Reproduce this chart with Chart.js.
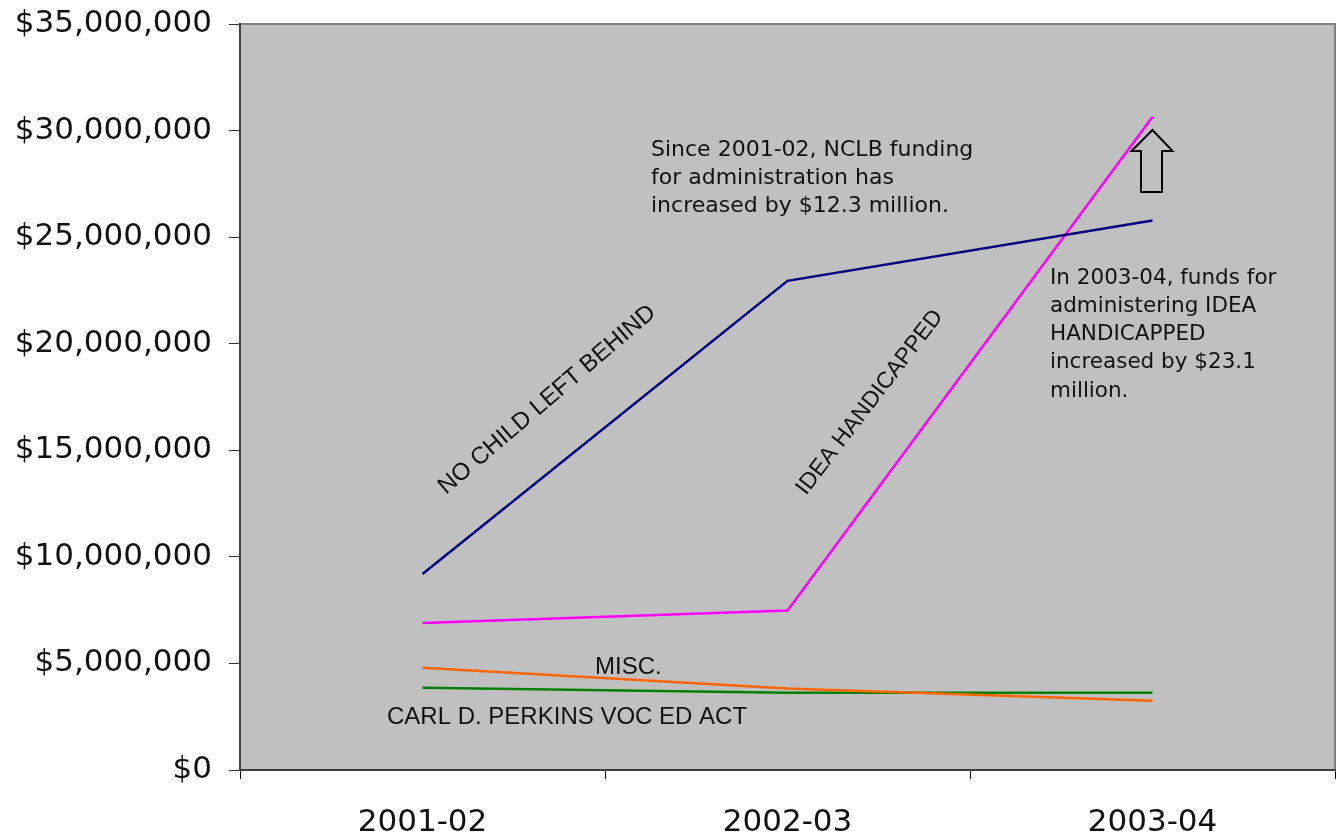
<!DOCTYPE html>
<html>
<head>
<meta charset="utf-8">
<script src="https://cdn.jsdelivr.net/npm/chart.js@4.4.0/dist/chart.umd.min.js"></script>
<style>
  html, body { margin: 0; padding: 0; background: #fff; }
  #wrap { width: 1339px; height: 834px; }
</style>
</head>
<body>
<div id="wrap"><canvas id="mycanvas" width="1339" height="834"></canvas></div>
<script>
// school years on the x axis
var years = ['2001-02', '2002-03', '2003-04'];

// admin funding, dollars
var nclb    = [9200000, 22950000, 25780000];
var idea    = [6900000, 7480000, 30650000];
var misc    = [4800000, 3820000, 3250000];
var perkins = [3860000, 3620000, 3620000];

var yTicks = [0, 5000000, 10000000, 15000000, 20000000, 25000000, 30000000, 35000000];

var gothic = '"DejaVu Sans", sans-serif';
var arial = '"Liberation Sans", Arial, sans-serif';

function money(v){
    return '$' + Number(v).toLocaleString('en-US');
}

// gray plot area with the thin borders on top and right
var plotBg = {
    id: 'plotBg',
    beforeDraw: function(chart){
        var c = chart.ctx, a = chart.chartArea;
        c.save();
        c.fillStyle = '#c0c0c0';
        c.fillRect(a.left, a.top, a.right - a.left, a.bottom - a.top);
        c.strokeStyle = '#808080';
        c.lineWidth = 2;
        c.beginPath();
        c.moveTo(a.left, a.top);
        c.lineTo(a.right, a.top);
        c.lineTo(a.right, a.bottom);
        c.stroke();
        c.restore();
    }
};

// text boxes, rotated series names and the up arrow
var notes = {
    id: 'notes',
    afterDatasetsDraw: function(chart){
        var c = chart.ctx;
        var x = chart.scales.x;
        c.save();
        c.fillStyle = '#111';
        c.textBaseline = 'middle';
        c.textAlign = 'left';

        c.font = '22px ' + gothic;
        var l1 = ['Since 2001-02, NCLB funding', 'for administration has', 'increased by $12.3 million.'];
        l1.forEach(function(t, i){ c.fillText(t, 651, 150 + i * 28.3); });

        c.font = '21.5px ' + gothic;
        var l2 = ['In 2003-04, funds for', 'administering IDEA', 'HANDICAPPED', 'increased by $23.1', 'million.'];
        l2.forEach(function(t, i){ c.fillText(t, 1050, 278 + i * 28.3); });

        c.font = '24px ' + arial;
        c.fillText('MISC.', 595, 667);
        c.fillText('CARL D. PERKINS VOC ED ACT', 387, 717);

        c.save();
        c.translate(446, 495);
        c.rotate(-40.5 * Math.PI / 180);
        c.textBaseline = 'alphabetic';
        c.font = '24px ' + arial;
        c.fillText('NO CHILD LEFT BEHIND', 0, 0);
        c.restore();

        c.save();
        c.translate(806, 496);
        c.rotate(-52.5 * Math.PI / 180);
        c.textBaseline = 'alphabetic';
        c.font = '23px ' + arial;
        c.fillText('IDEA HANDICAPPED', 0, 0);
        c.restore();

        // block arrow above the 2003-04 point
        var ax = x.getPixelForValue(2);
        c.strokeStyle = '#000';
        c.lineWidth = 2;
        c.beginPath();
        c.moveTo(ax, 130);
        c.lineTo(ax + 20, 151);
        c.lineTo(ax + 9.5, 151);
        c.lineTo(ax + 9.5, 192);
        c.lineTo(ax - 11.5, 192);
        c.lineTo(ax - 11.5, 151);
        c.lineTo(ax - 21, 151);
        c.closePath();
        c.stroke();
        c.restore();
    }
};

var lineSet = function(label, data, color){
    return {
        label: label,
        data: data,
        borderColor: color,
        backgroundColor: color,
        borderWidth: 2.5,
        pointRadius: 0,
        tension: 0,
        fill: false
    };
};

var chardata = {
    labels: years,
    datasets: [
        lineSet('NO CHILD LEFT BEHIND', nclb, '#000080'),
        lineSet('IDEA HANDICAPPED', idea, '#ff00ff'),
        lineSet('MISC.', misc, '#ff6600'),
        lineSet('CARL D. PERKINS VOC ED ACT', perkins, '#008000')
    ]
};

var ctx = document.getElementById('mycanvas');
var lineGraph = new Chart(ctx, {
    type: 'line',
    data: chardata,
    plugins: [plotBg, notes],
    options: {
        responsive: false,
        animation: false,
        layout: { padding: { top: 24, right: 4, left: 0, bottom: 0 } },
        plugins: {
            legend: { display: false },
            tooltip: { enabled: false }
        },
        scales: {
            x: {
                offset: true,
                grid: {
                    offset: true,
                    drawOnChartArea: false,
                    tickLength: 9,
                    color: '#000',
                    lineWidth: 1
                },
                border: { display: true, color: '#404040', width: 2 },
                ticks: {
                    color: '#111',
                    padding: 25,
                    font: { family: gothic, size: 31 },
                    maxRotation: 0
                },
                afterFit: function(s){ s.height = 64; }
            },
            y: {
                min: 0,
                max: 35000000,
                afterBuildTicks: function(s){
                    s.ticks = yTicks.map(function(v){ return { value: v }; });
                },
                grid: {
                    drawOnChartArea: false,
                    tickLength: 11,
                    color: '#333',
                    lineWidth: 1
                },
                border: { display: true, color: '#404040', width: 2 },
                ticks: {
                    color: '#111',
                    padding: 17,
                    font: { family: gothic, size: 31, lineHeight: 0.3 },
                    callback: function(v){ return money(v); }
                },
                afterFit: function(s){ s.width = 240; }
            }
        }
    }
});
</script>
</body>
</html>
